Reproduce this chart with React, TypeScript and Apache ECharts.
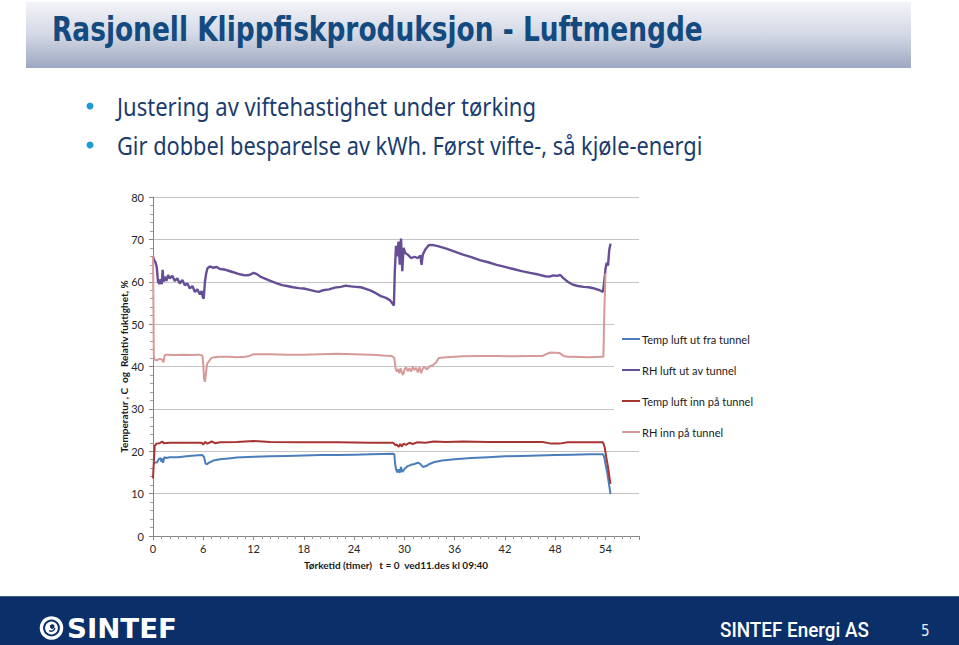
import React, { useEffect, useRef } from "react";
import * as echarts from "echarts";

// ---------- DATA ----------
const seriesNames = [
  "Temp luft ut fra tunnel",
  "RH luft ut av tunnel",
  "Temp luft inn på tunnel",
  "RH inn på tunnel",
];
const seriesColors = ["#4A7EBB", "#664E96", "#A63532", "#D69A98"];
const seriesWidths = [2, 2.4, 2, 2];

const xTickValues = [0, 6, 12, 18, 24, 30, 36, 42, 48, 54];
const yTickValues = [0, 10, 20, 30, 40, 50, 60, 70, 80];

// Temp luft ut fra tunnel (blue)
const tempOutTime = [0, 0.5, 0.7, 0.9, 1.0, 1.1, 1.2, 1.35, 1.6, 2, 3, 4, 5, 5.9, 6.1, 6.25, 6.4, 6.7, 7.2, 8, 9, 10, 12, 14, 16, 18, 20, 22, 24, 26, 28.7, 28.8, 28.9, 29.0, 29.15, 29.3, 29.45, 29.6, 29.75, 29.9, 30.1, 30.4, 30.8, 31.2, 31.6, 31.9, 32.2, 32.6, 33.0, 33.5, 34.5, 36, 38, 40, 42, 44, 46, 48, 50, 52, 53.7, 53.85, 54.0, 54.2, 54.4, 54.6];
const tempOutValues = [17.2, 17.4, 18.2, 18.4, 17.5, 18.3, 17.3, 18.6, 18.4, 18.6, 18.6, 18.8, 19.0, 19.1, 18.6, 17.2, 16.9, 17.3, 17.8, 18.1, 18.3, 18.5, 18.7, 18.8, 18.9, 19.0, 19.1, 19.1, 19.2, 19.3, 19.4, 19.3, 17.0, 15.8, 15.0, 15.7, 14.9, 16.3, 15.1, 15.5, 16.0, 16.5, 16.8, 17.0, 17.3, 17.0, 16.3, 16.5, 17.0, 17.4, 17.8, 18.1, 18.4, 18.6, 18.8, 18.9, 19.0, 19.1, 19.2, 19.3, 19.3, 18.6, 17.0, 15.0, 12.5, 9.9];

// RH luft ut av tunnel (purple)
const rhOutTime = [0, 0.15, 0.3, 0.45, 0.6, 0.75, 0.9, 1.05, 1.15, 1.25, 1.4, 1.6, 1.8, 2.0, 2.3, 2.6, 2.9, 3.2, 3.5, 3.8, 4.1, 4.4, 4.7, 5.0, 5.3, 5.6, 5.8, 5.95, 6.05, 6.2, 6.35, 6.5, 6.8, 7.2, 7.6, 8.0, 8.5, 9.0, 9.5, 10.0, 10.5, 11.0, 11.5, 12.0, 12.4, 12.8, 13.3, 14.0, 14.7, 15.4, 16.0, 16.7, 17.4, 18.0, 18.7, 19.3, 19.8, 20.3, 21.0, 21.7, 22.4, 23.0, 23.6, 24.2, 24.8, 25.4, 26.0, 26.6, 27.2, 27.8, 28.3, 28.6, 28.75, 28.85, 29.0, 29.15, 29.3, 29.45, 29.6, 29.75, 29.9, 30.1, 30.4, 30.8, 31.2, 31.6, 31.9, 32.05, 32.2, 32.5, 32.9, 33.3, 34.0, 35.0, 36.0, 37.0, 38.0, 39.0, 40.0, 41.0, 42.0, 43.0, 44.0, 45.0, 46.0, 46.8, 47.3, 47.8, 48.2, 48.6, 49.0, 49.5, 50.0, 50.7, 51.4, 52.0, 52.7, 53.3, 53.7, 53.85, 54.0, 54.15, 54.3, 54.45, 54.6];
const rhOutValues = [66.0, 65.0, 64.6, 63.4, 60.0, 59.5, 60.6, 59.4, 62.8, 60.0, 61.2, 60.2, 61.6, 60.8, 61.4, 60.2, 60.8, 59.6, 60.4, 59.2, 59.6, 58.4, 59.0, 57.6, 58.2, 57.0, 57.8, 56.4, 56.0, 60.0, 62.0, 63.2, 63.6, 63.3, 63.5, 63.0, 62.9, 62.6, 62.3, 62.0, 61.7, 61.5, 61.6, 62.1, 61.8, 61.2, 60.8, 60.2, 59.7, 59.2, 59.0, 58.7, 58.5, 58.4, 58.1, 57.8, 57.6, 58.0, 58.2, 58.6, 58.8, 59.1, 58.9, 58.8, 58.7, 58.3, 57.9, 57.3, 56.6, 56.2, 55.6, 54.8, 54.4, 62.0, 68.5, 66.0, 69.5, 64.0, 70.2, 62.5, 68.0, 66.8, 66.4, 65.6, 65.9, 65.6, 66.2, 64.0, 66.4, 67.6, 68.6, 68.7, 68.4, 67.8, 67.1, 66.4, 65.8, 65.1, 64.6, 64.0, 63.5, 63.0, 62.5, 62.1, 61.7, 61.3, 61.2, 61.5, 61.4, 61.6, 60.8, 60.0, 59.4, 59.0, 58.8, 58.7, 58.4, 58.0, 57.6, 60.0, 63.0, 64.5, 63.8, 67.5, 69.0];

// Temp luft inn på tunnel (dark red)
const tempInTime = [0, 0.1, 0.2, 0.4, 0.8, 1.1, 1.3, 2, 4, 5.8, 6.0, 6.2, 6.5, 7.0, 7.4, 8, 10, 12, 14, 18, 22, 26, 28.7, 28.9, 29.1, 29.3, 29.5, 29.7, 29.9, 30.2, 30.6, 31, 31.5, 32.5, 33.5, 35, 37, 40, 43, 46.5, 47.5, 48.5, 49.5, 52, 53.7, 53.9, 54.1, 54.3, 54.5, 54.6];
const tempInValues = [13.6, 17.5, 21.2, 21.8, 21.9, 22.3, 21.9, 22.0, 22.0, 22.0, 21.6, 22.2, 21.8, 22.3, 21.9, 22.1, 22.2, 22.4, 22.2, 22.1, 22.1, 22.0, 22.0, 21.4, 21.6, 21.0, 21.7, 21.1, 21.8, 21.5, 22.0, 21.7, 22.1, 22.0, 22.3, 22.2, 22.3, 22.2, 22.2, 22.2, 21.8, 21.8, 22.1, 22.1, 22.1, 21.0, 18.5, 16.3, 13.5, 12.3];

// RH inn på tunnel (light red)
const rhInTime = [0, 0.05, 0.1, 0.2, 0.5, 0.8, 1.1, 1.25, 1.4, 1.6, 2.5, 3.5, 4.5, 5.5, 5.9, 6.0, 6.1, 6.2, 6.3, 6.45, 6.6, 6.9, 7.3, 8, 9, 10, 11, 11.5, 12, 14, 16, 18, 20, 22, 24, 26, 27.5, 28.5, 28.8, 28.95, 29.1, 29.25, 29.4, 29.55, 29.7, 29.85, 30.0, 30.2, 30.4, 30.6, 30.8, 31.0, 31.2, 31.4, 31.6, 31.8, 32.0, 32.2, 32.4, 32.7, 33.0, 33.4, 33.8, 34.1, 35, 37, 39, 41, 43, 45, 46.5, 47.0, 47.5, 48.5, 49.0, 49.5, 50, 52, 53.6, 53.75, 53.85, 54.0];
const rhInValues = [66.0, 55.0, 42.5, 41.6, 41.5, 41.8, 41.6, 41.0, 42.6, 42.8, 42.7, 42.8, 42.7, 42.8, 42.6, 40.5, 37.0, 36.4, 38.0, 40.6, 41.0, 41.9, 42.2, 42.3, 42.3, 42.2, 42.3, 42.5, 42.9, 42.9, 42.8, 42.8, 42.9, 43.0, 42.9, 42.8, 42.6, 42.5, 42.0, 39.5, 38.8, 39.4, 38.4, 39.6, 38.6, 38.0, 39.2, 39.8, 38.9, 39.6, 38.8, 39.9, 39.2, 39.7, 38.6, 39.8, 38.4, 39.6, 39.9, 39.3, 40.0, 40.3, 41.0, 42.0, 42.2, 42.4, 42.5, 42.5, 42.4, 42.5, 42.5, 43.0, 43.3, 43.2, 42.5, 42.3, 42.3, 42.2, 42.3, 42.3, 52.0, 62.0];

const titleText = "Rasjonell Klippfiskproduksjon - Luftmengde";
const bulletTexts = [
  "Justering av viftehastighet under tørking",
  "Gir dobbel besparelse av kWh. Først vifte-, så kjøle-energi",
];
const yAxisName = "Temperatur , C  og  Relativ fuktighet, %";
const xAxisName = "Tørketid (timer)   t = 0  ved11.des kl 09:40";
const footerLogoText = "SINTEF";
const footerCompany = "SINTEF Energi AS";
const pageNumber = "5";

function zip(t: number[], v: number[]) {
  return t.map((x, i) => [x, v[i]]);
}

function fitScale(text: string, font: string, target: number) {
  const ctx = document.createElement("canvas").getContext("2d");
  if (!ctx) return 1;
  ctx.font = font;
  const w = ctx.measureText(text).width;
  return w > 0 ? target / w : 1;
}

export default function App() {
  const ref = useRef<HTMLDivElement>(null);
  useEffect(() => {
    if (!ref.current) return;
    const chart = echarts.init(ref.current, undefined, { renderer: "svg" });

    const titleFont = "bold 34px 'DejaVu Sans Condensed'";
    const bulletFont = "25px 'Noto Sans'";
    const logoFont = "bold 26px 'DejaVu Sans'";
    const companyFont = "500 21px 'Roboto'";

    const data = [
      zip(tempOutTime, tempOutValues),
      zip(rhOutTime, rhOutValues),
      zip(tempInTime, tempInValues),
      zip(rhInTime, rhInValues),
    ];

    const option: any = {
      animation: false,
      backgroundColor: "#ffffff",
      grid: { left: 153, right: 320, top: 197, bottom: 109, containLabel: false },
      xAxis: {
        type: "value",
        min: 0,
        max: 58,
        interval: 6,
        name: xAxisName,
        nameLocation: "middle",
        nameGap: 24,
        nameTextStyle: { fontFamily: "Lato", fontWeight: "bold", fontSize: 10, color: "#1a1a1a" },
        axisLine: { show: true, lineStyle: { color: "#868686", width: 1 } },
        axisTick: { show: true, length: 4, lineStyle: { color: "#868686" } },
        minorTick: { show: true, splitNumber: 6, length: 3, lineStyle: { color: "#9a9a9a" } },
        splitLine: { show: false },
        axisLabel: {
          showMaxLabel: false,
          margin: 7,
          fontFamily: "Lato",
          fontSize: 11,
          color: "#262626",
          formatter: (v: number) => (xTickValues.includes(v) ? String(v) : ""),
        },
      },
      yAxis: {
        type: "value",
        min: 0,
        max: 80,
        interval: 10,
        name: yAxisName,
        nameLocation: "middle",
        nameGap: 24,
        nameMoveOverlap: false,
        nameTextStyle: { fontFamily: "Lato", fontWeight: "bold", fontSize: 10, color: "#1a1a1a" },
        axisLine: { show: true, lineStyle: { color: "#868686", width: 1 } },
        axisTick: { show: true, length: 4, lineStyle: { color: "#868686" } },
        minorTick: { show: true, splitNumber: 5, length: 3, lineStyle: { color: "#9a9a9a" } },
        splitLine: { show: true, lineStyle: { color: "#c4c4c4", width: 1 } },
        axisLabel: {
          margin: 9,
          fontFamily: "Lato",
          fontSize: 11,
          color: "#262626",
          formatter: (v: number) => (yTickValues.includes(v) ? String(v) : ""),
        },
      },
      legend: {
        orient: "vertical",
        left: 614,
        top: 322,
        padding: [10, 20, 8, 8],
        backgroundColor: "#ffffff",
        itemWidth: 18,
        itemHeight: 2,
        itemGap: 17,
        icon: "rect",
        data: seriesNames,
        textStyle: { fontFamily: "Lato", fontSize: 11, color: "#1a1a1a", lineHeight: 14, padding: [0, 0, 0, -3] },
      },
      series: seriesNames.map((name, i) => ({
        name,
        type: "line",
        data: data[i],
        showSymbol: false,
        symbol: "none",
        color: seriesColors[i],
        lineStyle: { color: seriesColors[i], width: seriesWidths[i] },
        z: i === 3 ? 3 : 2,
      })),
      graphic: [
        {
          type: "rect",
          shape: { x: 26, y: 2, width: 885, height: 66 },
          style: {
            fill: new echarts.graphic.LinearGradient(0, 0, 0, 1, [
              { offset: 0, color: "#F3F4F8" },
              { offset: 0.5, color: "#D3D8E4" },
              { offset: 1, color: "#9DA7C1" },
            ]),
          },
          z: 0,
        },
        {
          type: "text",
          x: 52,
          y: 29,
          scaleX: fitScale(titleText, titleFont, 651),
          style: { text: titleText, font: titleFont, fill: "#134A80", textAlign: "left", textVerticalAlign: "middle" },
          z: 1,
        },
        ...bulletTexts.flatMap((t, i) => {
          const cy = i === 0 ? 106 : 145;
          return [
            { type: "circle", shape: { cx: 90, cy: cy, r: 3.5 }, style: { fill: "#1E9AD6" } },
            {
              type: "text",
              x: 117,
              y: cy,
              scaleX: fitScale(t, bulletFont, i === 0 ? 419 : 586),
              style: { text: t, font: bulletFont, fill: "#1B3C6E", textAlign: "left", textVerticalAlign: "middle" },
            },
          ];
        }),
        {
          type: "rect",
          shape: { x: 0, y: 596, width: 959, height: 49 },
          style: { fill: "#0B2F69" },
        },
        { type: "rect", shape: { x: 0, y: 596, width: 959, height: 1 }, style: { fill: "#3E5A8A" } },
        { type: "ring", shape: { cx: 51.5, cy: 628, r: 11.8, r0: 8.4 }, style: { fill: "#ffffff" } },
        { type: "circle", shape: { cx: 51.5, cy: 628, r: 6.4 }, style: { fill: "#ffffff" } },
        { type: "circle", shape: { cx: 52.2, cy: 626.6, r: 2.3 }, style: { fill: "#0B2F69" } },
        {
          type: "arc",
          shape: { cx: 51.2, cy: 627.6, r: 3.6, startAngle: 0.1, endAngle: 2.2 },
          style: { stroke: "#0B2F69", lineWidth: 1.5, fill: null },
        },
        {
          type: "text",
          x: 67,
          y: 629,
          scaleX: fitScale(footerLogoText, logoFont, 110),
          style: { text: footerLogoText, font: logoFont, fill: "#ffffff", textAlign: "left", textVerticalAlign: "middle" },
        },
        {
          type: "text",
          x: 720,
          y: 630,
          scaleX: fitScale(footerCompany, companyFont, 149),
          style: { text: footerCompany, font: companyFont, fill: "#ffffff", textAlign: "left", textVerticalAlign: "middle" },
        },
        {
          type: "text",
          x: 921,
          y: 631,
          style: { text: pageNumber, font: "15px 'DejaVu Sans Condensed'", fill: "#e8ecf4", textAlign: "left", textVerticalAlign: "middle" },
        },
      ],
    };

    chart.setOption(option);
    return () => chart.dispose();
  }, []);

  return (
    <div
      ref={ref}
      style={{ position: "fixed", left: 0, top: 0, width: 959, height: 645, background: "#ffffff" }}
    />
  );
}
